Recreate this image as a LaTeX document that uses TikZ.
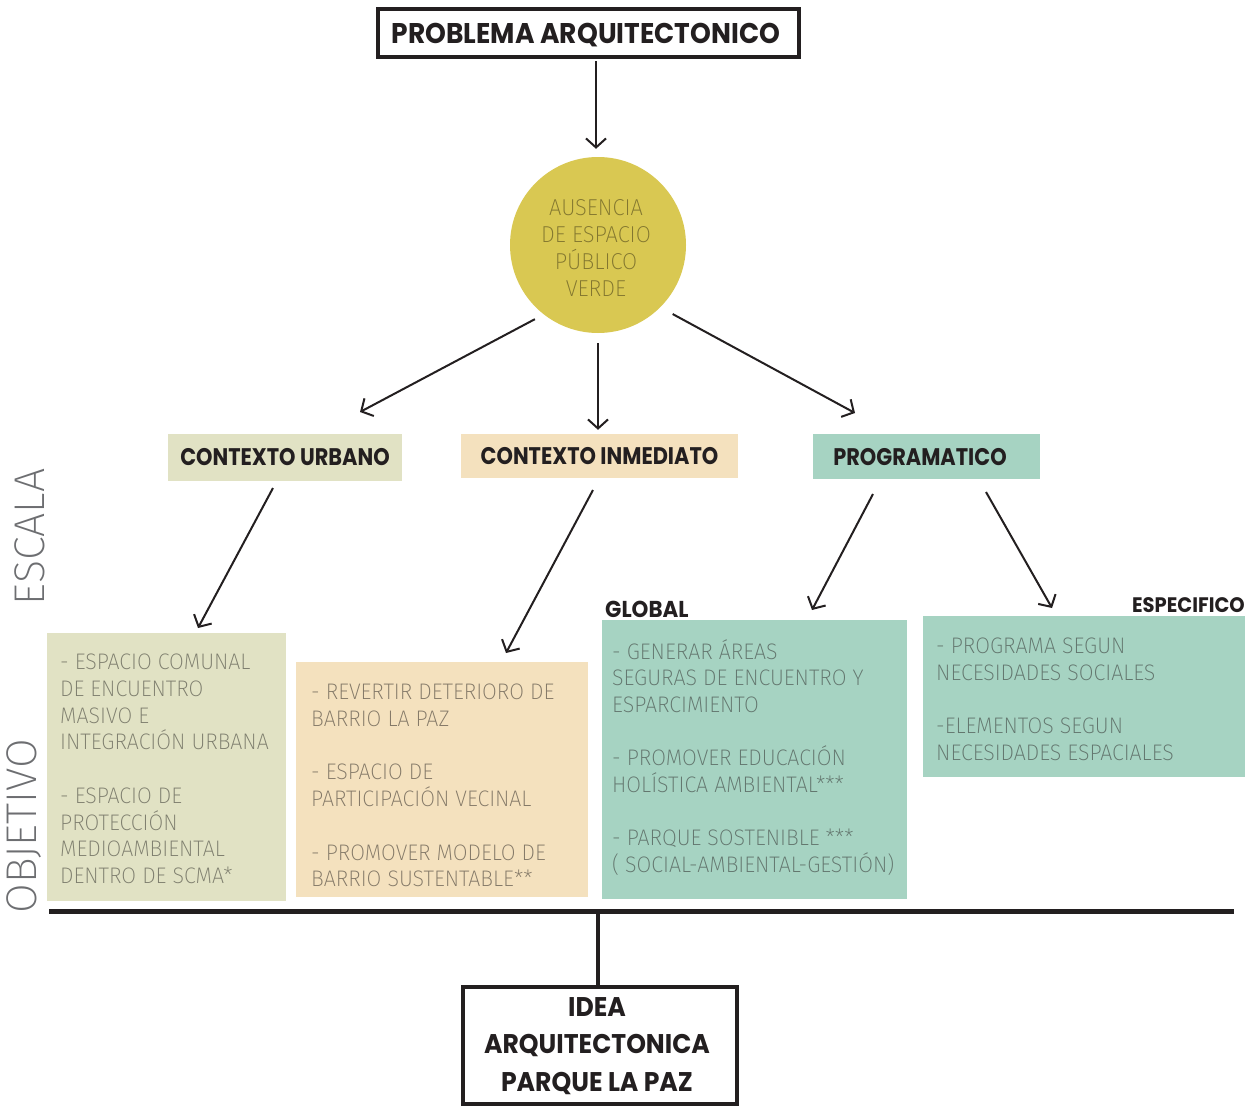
\documentclass[tikz,border=0pt]{standalone}
\usepackage{fontspec}
\usetikzlibrary{arrows.meta}
\newfontfamily\thinf{Fira Sans ExtraLight}[FakeStretch=0.95]
\newfontfamily\sidef{Fira Sans ExtraLight}
\newfontfamily\headf{Poppins}[FakeStretch=0.87]
\newfontfamily\headwf{Poppins}[FakeStretch=0.93]
\definecolor{olivebox}{HTML}{E1E2C4}
\definecolor{beigebox}{HTML}{F4E1BE}
\definecolor{tealbox}{HTML}{A6D3C2}
\definecolor{circfill}{HTML}{D9C852}
\definecolor{circtext}{HTML}{82762F}
\definecolor{olivetext}{HTML}{7E7E6E}
\definecolor{beigetext}{HTML}{837867}
\definecolor{tealtext}{HTML}{63766E}
\definecolor{sidetext}{HTML}{6D6E71}
\definecolor{ink}{HTML}{231F20}
\tikzset{
  framebox/.style={draw=ink,line width=4.5pt,fill=white,inner sep=0pt},
  colbox/.style={inner sep=0pt,draw=none},
  headtxt/.style={font=\headf\bfseries\fontsize{24}{28}\selectfont,text=ink,inner sep=0pt},
  bodytxt/.style={font=\thinf\fontsize{22.5}{26.7}\selectfont,align=left,inner sep=0pt,anchor=north west},
  arr/.style={draw=ink,line width=2pt,-{Straight Barb[length=9pt,width=20pt,line width=2pt]}},
  sidetxt/.style={font=\sidef\fontsize{43}{43}\selectfont,text=sidetext,rotate=90,inner sep=0pt}
}
\begin{document}
\begin{tikzpicture}[x=1pt,y=-1pt]
\useasboundingbox (0,0) rectangle (1251,1108);
% top
\node[framebox,minimum width=421pt,minimum height=48pt] (top) at (588.5,33) {};
\node[headtxt,font=\headwf\bfseries\fontsize{28.5}{32}\selectfont] (toptxt) at (586,35) {PROBLEMA ARQUITECTONICO};
% circle
\node[circle,fill=circfill,minimum size=176pt,inner sep=0pt] (circ) at (598,245) {};
\node[font=\thinf\fontsize{23}{26.7}\selectfont,text=circtext,align=center,inner sep=0pt] (circtxt) at (596,248) {AUSENCIA\\DE ESPACIO\\PÚBLICO\\VERDE};
% level 2 boxes
\node[colbox,fill=olivebox,minimum width=234pt,minimum height=47pt] (cu) at (285,457.5) {};
\node[headtxt] (cutxt) at (cu.center) {CONTEXTO URBANO};
\node[colbox,fill=beigebox,minimum width=277pt,minimum height=44pt] (ci) at (599.5,456) {};
\node[headtxt] (citxt) at (ci.center) {CONTEXTO INMEDIATO};
\node[colbox,fill=tealbox,minimum width=227pt,minimum height=45pt] (pg) at (926.5,456.5) {};
\node[headtxt] (pgtxt) at (920,457) {PROGRAMATICO};
% level 3 boxes
\node[colbox,fill=olivebox,minimum width=239pt,minimum height=268pt] (ob1) at (166.5,767) {};
\node[bodytxt,text=olivetext] (ob1txt) at (60,654) {- ESPACIO COMUNAL\\DE ENCUENTRO\\MASIVO E\\INTEGRACIÓN URBANA\\[26.7pt]- ESPACIO DE\\PROTECCIÓN\\MEDIOAMBIENTAL\\DENTRO DE SCMA*};
\node[colbox,fill=beigebox,minimum width=292pt,minimum height=235pt] (ob2) at (442,779.5) {};
\node[bodytxt,text=beigetext] (ob2txt) at (311,684) {- REVERTIR DETERIORO DE\\BARRIO LA PAZ\\[26.7pt]- ESPACIO DE\\PARTICIPACIÓN VECINAL\\[26.7pt]- PROMOVER MODELO DE\\BARRIO SUSTENTABLE**};
\node[colbox,fill=tealbox,minimum width=305pt,minimum height=279pt] (ob3) at (754.5,759.5) {};
\node[bodytxt,text=tealtext] (ob3txt) at (612,639) {- GENERAR ÁREAS\\SEGURAS DE ENCUENTRO Y\\ESPARCIMIENTO\\[26.7pt]- PROMOVER EDUCACIÓN\\HOLÍSTICA AMBIENTAL***\\[26.7pt]- PARQUE SOSTENIBLE ***\\( SOCIAL-AMBIENTAL-GESTIÓN)};
\node[colbox,fill=tealbox,minimum width=322pt,minimum height=161pt] (ob4) at (1084,696.5) {};
\node[bodytxt,text=tealtext] (ob4txt) at (936,638) {- PROGRAMA SEGUN\\NECESIDADES SOCIALES\\[26.7pt]-ELEMENTOS SEGUN\\NECESIDADES ESPACIALES};
% labels
\node[headtxt,font=\headwf\bfseries\fontsize{23}{26}\selectfont,anchor=base west] (glob) at (605,617) {GLOBAL};
\node[headtxt,font=\headwf\bfseries\fontsize{21}{24}\selectfont,anchor=base east] (espe) at (1245,612) {ESPECIFICO};
\node[sidetxt] (escala) at (30,537) {ESCALA};
\node[sidetxt] (objetivo) at (24,826) {OBJETIVO};
% bottom
\node[framebox,minimum width=274pt,minimum height=117pt] (idea) at (600,1045.5) {};
\node[headtxt,font=\headwf\bfseries\fontsize{27}{37.5}\selectfont,align=center] (ideatxt) at (597,1046) {IDEA\\ARQUITECTONICA\\PARQUE LA PAZ};
% connectors
\coordinate (e1) at (360,412);
\coordinate (e3) at (855,413);
\coordinate (s4) at (273,488); \coordinate (e4) at (198,628);
\coordinate (s5) at (593,490); \coordinate (e5) at (506,653);
\coordinate (s6) at (873,494); \coordinate (e6) at (812,610);
\coordinate (s7) at (986,492); \coordinate (e7) at (1052,608);
\draw[arr,shorten <=2pt,shorten >=8pt] ([xshift=-2pt]top.south -| circ.north) -- ([xshift=-2pt]circ.north);
\draw[arr,shorten <=10pt] (circ.232) -- (e1);
\draw[arr,shorten <=10pt,shorten >=4pt] (circ.south) -- (circ.south |- ci.north);
\draw[arr,shorten <=14pt] (circ.-45) -- (e3);
\draw[arr] (s4) -- (e4);
\draw[arr] (s5) -- (e5);
\draw[arr] (s6) -- (e6);
\draw[arr] (s7) -- (e7);
\coordinate (hl1) at (49,911);
\coordinate (hl2) at (1234,911);
\coordinate (jn) at (598,911);
\draw[draw=ink,line width=5pt] (hl1) -- (hl2);
\draw[draw=ink,line width=4pt] (jn) -- (jn |- idea.north);
\end{tikzpicture}
\end{document}
